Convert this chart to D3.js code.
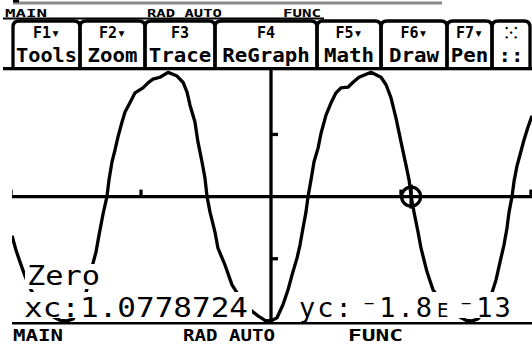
<!DOCTYPE html>
<html>
<head>
<meta charset="utf-8">
<title></title>
<style>
body { margin: 0; background: #fff; }
svg text { font-family: "DejaVu Sans Mono", monospace; fill: #000; }
</style>
</head>
<body>
<div id="screen"></div>
<script src="https://d3js.org/d3.v7.min.js"></script>
<script>
// curve y1 (x, y in window units)
const curveX = [-1.992, -1.962, -1.931, -1.892, -1.854, -1.792, -1.700, -1.623, -1.569, -1.523, -1.477, -1.431, -1.392, -1.369, -1.346, -1.323, -1.292, -1.262,
  -1.246, -1.223, -1.200, -1.177, -1.146, -1.123, -1.085, -1.046, -0.985, -0.946, -0.908, -0.854, -0.792, -0.723, -0.677, -0.646, -0.623, -0.585, -0.562, -0.531, -0.508, -0.492,
  -0.469, -0.431, -0.408, -0.354, -0.300, -0.200, -0.100, -0.046, 0.000, 0.046, 0.092, 0.131, 0.162, 0.200, 0.223, 0.246, 0.269, 0.285,
  0.308, 0.331, 0.362, 0.385, 0.423, 0.462, 0.500, 0.538, 0.592, 0.631, 0.677, 0.769, 0.846, 0.885, 0.923, 0.962, 1.000, 1.038, 1.062, 1.078,
  1.100, 1.131, 1.154, 1.200, 1.246, 1.338, 1.438, 1.500, 1.546, 1.592, 1.646, 1.692, 1.731, 1.762, 1.792, 1.815, 1.831, 1.854,
  1.869, 1.892, 1.915, 1.946, 1.977, 2.008]
const curveY = [-0.63, -0.86, -1.05, -1.28, -1.47, -1.71, -1.91, -1.99, -2.00, -1.97, -1.83, -1.60, -1.31, -1.07, -0.89, -0.62, -0.28, 0.00,
  0.27, 0.56, 0.75, 0.96, 1.20, 1.36, 1.51, 1.67, 1.75, 1.83, 1.89, 1.92, 2.00, 1.94, 1.84, 1.68, 1.47, 1.20, 0.88, 0.56, 0.30, 0.00,
  -0.25, -0.57, -0.83, -1.10, -1.42, -1.75, -1.92, -1.99, -2.00, -1.95, -1.74, -1.50, -1.26, -0.99, -0.78, -0.51, -0.25, 0.00,
  0.27, 0.56, 0.78, 1.02, 1.31, 1.51, 1.67, 1.75, 1.76, 1.84, 1.92, 2.00, 1.92, 1.80, 1.59, 1.26, 0.88, 0.51, 0.27, 0.00,
  -0.25, -0.57, -0.83, -1.21, -1.50, -1.76, -1.92, -1.99, -2.00, -1.97, -1.83, -1.60, -1.34, -1.05, -0.78, -0.51, -0.25, 0.00,
  0.24, 0.49, 0.67, 0.91, 1.12, 1.30]

const xTicks = [-2, -1, 1, 2]
const yTicks = [-1, 1]

const fKeys = ["F1\u25BE", "F2\u25BE", "F3", "F4", "F5\u25BE", "F6\u25BE", "F7\u25BE", "\u2059"]
const fNames = ["Tools", "Zoom", "Trace", "ReGraph", "Math", "Draw", "Pen", "::"]
const statusWords = ["MAIN", "RAD AUTO", "FUNC"]

const zeroLabel = "Zero"
const xcValue = 1.0778724
const ycMantissa = "1.8", ycExponent = "13"

const W = 532, H = 347
const svg = d3.select("#screen").append("svg")
  .attr("width", W).attr("height", H)
  .style("display", "block")

// graph window
const plot = { left: 12, right: 532, top: 70, bottom: 322 }
const x = d3.scaleLinear().domain([-2, 2]).range([11, 531])
const y = d3.scaleLinear().domain([-2, 2]).range([320.9, 72.3])
const lw = 3.3

// leftovers of the previous screen at the very top
svg.append("rect").attr("x", 13).attr("y", 1.5).attr("width", 429).attr("height", 3).attr("fill", "#8a8a8a")
svg.append("rect").attr("x", 13).attr("y", 0).attr("width", 6).attr("height", 2.5).attr("fill", "#000")

function status(g, words, xs, widths, base, size) {
  words.forEach((w, i) => {
    g.append("text")
      .attr("x", xs[i]).attr("y", base)
      .attr("font-size", size).attr("font-weight", "bold")
      .attr("textLength", widths[i]).attr("lengthAdjust", "spacingAndGlyphs")
      .text(w)
  })
}
const topStatus = svg.append("g")
status(topStatus, statusWords, [5, 147, 283], [42, 75, 38], 17, 11)
topStatus.append("rect").attr("x", 3).attr("y", 17.5).attr("width", 321).attr("height", 2).attr("fill", "#000")

// toolbar tabs
const tabEdges = [13, 80, 145, 215, 317, 381, 447, 492, 530]
const bar = svg.append("g")
fKeys.forEach((k, i) => {
  const x0 = tabEdges[i], x1 = tabEdges[i + 1]
  bar.append("path")
    .attr("d", `M${x0},69 V27 Q${x0},21 ${x0 + 6},21 H${x1 - 6} Q${x1},21 ${x1},27 V69`)
    .attr("fill", "none").attr("stroke", "#000").attr("stroke-width", lw)
  bar.append("text")
    .attr("x", (x0 + x1) / 2).attr("y", 38)
    .attr("text-anchor", "middle")
    .attr("font-size", 15).attr("font-weight", "bold")
    .text(k)
  bar.append("text")
    .attr("x", (x0 + x1) / 2).attr("y", 62)
    .attr("text-anchor", "middle")
    .attr("font-size", 19).attr("font-weight", "bold")
    .attr("textLength", Math.min(x1 - x0 - 6, fNames[i].length * 12.5)).attr("lengthAdjust", "spacingAndGlyphs")
    .text(fNames[i])
})
bar.append("rect").attr("x", 3).attr("y", 67).attr("width", 529).attr("height", lw).attr("fill", "#000")

// graph
svg.append("clipPath").attr("id", "clip")
  .append("rect").attr("x", plot.left).attr("y", plot.top)
  .attr("width", plot.right - plot.left).attr("height", plot.bottom - plot.top)

const gr = svg.append("g").attr("clip-path", "url(#clip)")

gr.append("line")
  .attr("x1", plot.left).attr("x2", plot.right)
  .attr("y1", y(0)).attr("y2", y(0))
  .attr("stroke", "#000").attr("stroke-width", lw)
gr.append("line")
  .attr("x1", x(0)).attr("x2", x(0))
  .attr("y1", plot.top).attr("y2", plot.bottom)
  .attr("stroke", "#000").attr("stroke-width", lw)

gr.selectAll(".xt").data(xTicks).join("line")
  .attr("x1", d => x(d)).attr("x2", d => x(d))
  .attr("y1", y(0)).attr("y2", y(0) - 7)
  .attr("stroke", "#000").attr("stroke-width", lw)
gr.selectAll(".yt").data(yTicks).join("line")
  .attr("x1", x(0)).attr("x2", x(0) + 7)
  .attr("y1", d => y(d)).attr("y2", d => y(d))
  .attr("stroke", "#000").attr("stroke-width", lw)

const pts = curveX.map((v, i) => [v, curveY[i]])
gr.append("path")
  .datum(pts)
  .attr("d", d3.line().x(d => x(d[0])).y(d => y(d[1])))
  .attr("fill", "none").attr("stroke", "#000").attr("stroke-width", lw)
  .attr("stroke-linejoin", "round")

// trace cursor
const cx = x(xcValue), cy = y(0)
gr.append("circle").attr("cx", cx).attr("cy", cy).attr("r", 9.5)
  .attr("fill", "none").attr("stroke", "#000").attr("stroke-width", lw)
gr.append("line").attr("x1", cx).attr("x2", cx).attr("y1", cy - 12).attr("y2", cy + 12)
  .attr("stroke", "#000").attr("stroke-width", lw)

// zero readout, glyphs erase the graph behind them
const blank = (x0, y0, w, h) => gr.append("rect").attr("x", x0).attr("y", y0).attr("width", w).attr("height", h).attr("fill", "#fff")
blank(25, 264, 77, 25)
blank(22, 292, 230, 26)
blank(298, 292, 216, 26)

gr.append("text").attr("x", 27).attr("y", 285).attr("font-size", 26)
  .attr("textLength", 73).attr("lengthAdjust", "spacingAndGlyphs")
  .text(zeroLabel)
gr.append("text").attr("x", 24).attr("y", 317).attr("font-size", 27)
  .attr("textLength", 224).attr("lengthAdjust", "spacingAndGlyphs")
  .text("xc:" + xcValue)

const yc = gr.append("text").attr("font-size", 27).attr("y", 317).attr("letter-spacing", 2)
yc.append("tspan").attr("x", 299).text("yc:")
yc.append("tspan").attr("x", 361).text("\u207B" + ycMantissa)
yc.append("tspan").attr("x", 437).attr("font-size", 19).attr("letter-spacing", 0).text("E")
yc.append("tspan").attr("x", 458).text("\u207B" + ycExponent)

// status line
svg.append("rect").attr("x", plot.left).attr("y", 322).attr("width", W - plot.left).attr("height", 2.5).attr("fill", "#000")
status(svg.append("g"), statusWords, [13, 183, 348], [50, 92, 55], 341, 15)
</script>
</body>
</html>
